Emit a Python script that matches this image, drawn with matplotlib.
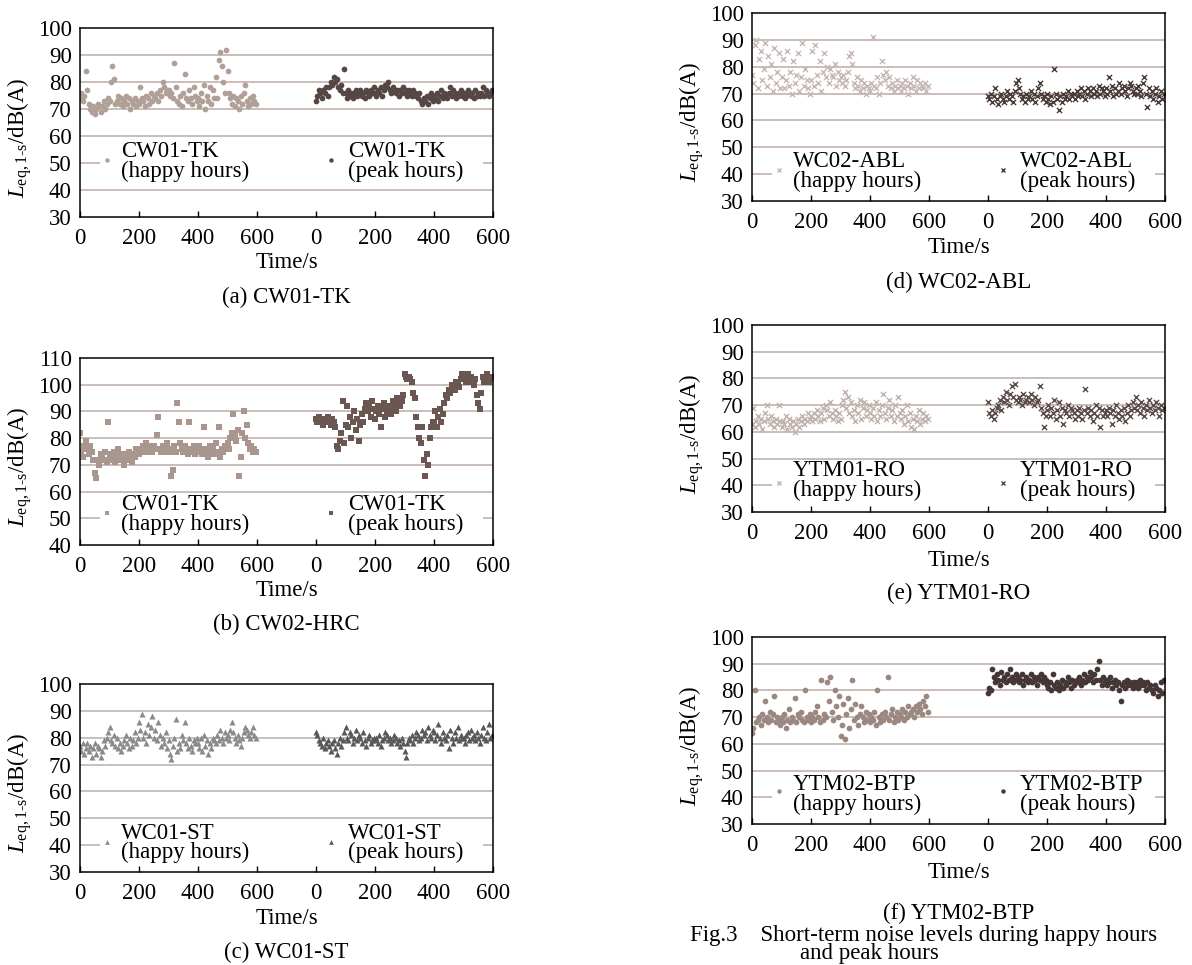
import numpy as np
import matplotlib
matplotlib.use('Agg')
import matplotlib.pyplot as plt
from matplotlib.patches import Rectangle

plt.rcParams['font.family'] = ['Liberation Serif', 'DejaVu Serif']
plt.rcParams['mathtext.fontset'] = 'custom'
plt.rcParams['mathtext.rm'] = 'Liberation Serif'
plt.rcParams['mathtext.it'] = 'Liberation Serif:italic'

W, H = 1192, 965
STEP = 5  # seconds between the read-off samples

# ---------------- data (dB(A), one value every 5 s, 0..595 s) ----------------
a_happy = [74,76,73,75,84,77,72,70,69,71,68,70,72,71,69,71,73,70,72,74,
           73,80,86,81,72,73,75,72,74,71,73,75,72,74,70,73,72,74,71,73,
           72,78,74,73,71,75,74,72,76,73,75,74,76,73,77,75,80,78,76,77,
           77,75,76,74,87,78,73,72,75,71,76,83,74,73,77,74,72,78,75,73,
           74,71,76,73,79,70,75,73,78,72,77,74,82,74,88,91,86,80,76,92,
           84,76,74,72,75,71,74,73,70,75,72,76,79,73,71,74,72,75,73,72]
a_peak = [73,75,77,76,74,77,76,78,75,78,80,79,82,80,81,78,77,79,76,85,
          76,74,77,75,76,74,76,77,75,76,77,75,76,74,77,76,75,77,76,78,
          76,75,77,76,78,75,77,79,78,80,77,76,78,77,76,77,75,77,76,78,
          76,77,75,77,76,75,77,76,75,74,76,73,72,74,73,75,72,74,76,73,
          75,74,76,73,75,77,74,76,75,74,76,78,75,77,76,74,75,76,77,75,
          76,74,75,77,76,75,76,74,77,75,76,75,76,78,75,77,76,75,76,77]

b_happy = [82,75,73,77,79,76,74,77,75,72,67,65,72,70,74,73,72,75,71,86,
           73,74,72,75,71,73,76,74,72,73,70,74,72,75,73,71,74,73,76,75,
           74,76,75,77,76,78,75,77,76,75,77,76,81,88,76,75,77,76,75,78,
           76,75,66,68,77,75,93,86,78,76,75,77,76,74,86,76,75,77,74,76,
           75,77,76,74,84,75,76,73,77,75,76,74,78,75,84,73,76,75,77,76,
           78,76,80,82,89,81,79,83,66,73,82,90,80,85,78,76,77,75,76,75]
b_peak = [87,86,88,86,87,85,87,86,88,86,85,87,86,84,77,76,79,82,94,78,
          85,92,84,88,80,86,90,83,87,79,85,89,86,91,93,90,92,88,94,91,
          87,90,92,89,84,91,93,88,90,92,91,89,94,92,90,95,93,92,94,96,
          104,103,102,103,102,101,97,95,88,84,80,78,84,72,66,74,70,80,84,86,
          86,90,84,88,91,86,89,93,96,95,98,97,100,99,98,101,100,99,102,104,
          103,102,101,104,102,103,101,100,102,96,93,91,97,103,101,102,104,101,102,103]

c_happy = [77,75,78,74,76,78,75,77,73,76,78,74,77,76,73,75,79,77,80,82,
           84,79,78,81,77,80,76,78,75,77,79,81,78,76,80,77,79,82,78,80,
           86,83,89,80,82,78,85,81,84,88,80,83,79,86,81,77,80,78,82,76,
           79,74,72,77,80,87,75,78,76,81,79,86,78,76,80,77,75,79,78,80,
           78,76,80,75,81,77,79,74,78,76,80,79,78,81,79,83,80,78,82,80,
           81,79,83,86,82,80,78,81,79,77,80,82,84,83,81,80,82,84,81,80]
c_peak = [82,81,79,78,77,80,76,78,79,77,75,78,79,76,74,78,80,77,79,82,
          84,80,79,82,81,78,80,83,79,81,80,78,82,79,77,80,81,78,79,80,
          79,80,78,81,77,79,80,82,81,79,80,78,79,81,80,78,79,77,80,78,
          75,73,78,80,79,81,78,80,82,81,79,80,83,81,82,79,84,81,80,83,
          82,79,81,85,80,78,82,80,79,81,76,83,80,78,82,80,84,79,81,80,
          80,78,81,82,79,83,80,81,79,82,80,78,81,84,80,79,82,85,80,81]

d_happy = [77,74,88,90,72,83,86,75,79,89,73,84,76,81,71,87,74,78,85,72,
           76,83,72,75,86,73,78,70,82,74,77,85,71,76,89,73,79,75,72,70,
           75,86,73,88,77,74,82,71,78,85,76,80,74,79,77,76,81,73,78,75,
           76,74,77,73,75,78,84,85,81,74,72,76,73,71,75,72,74,70,73,72,
           71,74,91,73,72,76,70,74,82,77,75,78,73,76,72,74,71,73,75,72,
           73,71,74,72,75,73,70,74,72,76,73,71,75,72,74,73,72,74,71,73]
d_peak = [69,68,70,67,69,72,68,66,69,70,68,67,69,71,68,70,69,67,71,74,
          75,72,70,68,69,67,70,68,69,71,68,70,67,69,72,74,70,68,69,67,
          70,68,66,69,67,79,70,68,64,69,67,70,68,69,71,68,70,69,70,68,
          71,69,70,72,69,71,68,70,72,71,69,72,70,71,69,73,70,72,71,69,
          72,70,76,71,73,69,72,70,71,74,70,72,73,71,69,72,74,73,71,70,
          72,70,73,71,69,74,76,70,65,72,69,71,68,70,72,67,69,71,68,70]

e_happy = [63,69,62,64,66,63,65,61,64,67,70,65,63,66,64,62,65,63,70,64,
           62,64,63,66,61,65,63,62,64,60,63,65,62,64,66,63,65,64,67,65,
           66,64,67,65,68,66,64,67,69,65,70,68,66,71,67,65,68,66,64,67,
           65,70,72,75,69,73,67,71,66,68,64,70,67,72,65,69,71,66,68,70,
           67,65,69,66,71,64,68,66,70,74,67,65,69,72,66,68,64,70,66,73,
           67,65,68,63,66,70,64,67,62,65,61,66,64,68,63,65,67,64,66,65]
e_peak = [71,67,66,68,65,67,69,70,72,68,73,71,75,72,70,74,77,73,78,72,
          71,73,72,70,74,71,72,73,71,74,72,70,73,71,72,77,69,67,62,66,
          68,70,66,69,67,72,65,68,71,66,69,63,68,67,70,66,69,68,67,65,
          68,66,69,67,65,68,76,67,69,66,68,64,67,70,66,69,62,68,66,67,
          68,66,69,67,63,68,66,70,67,65,68,66,69,64,67,70,66,68,71,69,
          73,68,70,67,71,69,66,70,68,72,69,67,70,68,71,69,66,70,68,69]

f_happy = [64,66,80,68,69,70,67,71,69,76,70,68,72,69,71,78,68,70,69,67,
           70,68,71,66,69,73,68,70,69,77,68,71,70,72,69,68,80,70,69,71,
           68,70,69,72,74,70,68,84,69,71,70,83,76,85,72,69,80,74,70,78,
           63,67,75,62,71,77,66,73,84,69,75,70,67,71,74,70,68,72,69,71,
           68,70,69,72,67,80,70,68,71,69,72,70,85,69,71,73,68,70,72,69,
           71,70,73,69,72,70,74,71,72,73,70,74,72,75,73,71,76,74,78,72]
f_peak = [79,81,80,88,85,83,86,84,82,87,84,85,83,86,84,88,85,83,84,86,
          85,83,84,86,82,84,85,83,84,86,83,85,84,82,85,84,86,83,85,84,
          82,81,83,80,86,82,81,83,80,82,84,81,83,82,85,83,81,84,82,83,
          84,83,85,82,84,86,83,85,84,87,85,83,86,84,88,91,84,82,85,83,
          84,82,83,85,81,83,84,82,83,80,76,82,83,81,84,82,83,82,81,83,
          82,83,81,84,82,83,82,80,83,81,82,80,79,82,81,78,80,83,79,84]

x_tick_labels = ['0', '200', '400', '600', '0', '200', '400', '600']
PEAK_OFFSET = 800   # peak-hour block starts at axis position 800

panels = [
    dict(name='CW01-TK', cap='(a) CW01-TK', happy=a_happy, peak=a_peak, ylim=(30, 100),
         marker='o', s=17, ch='#b0a098', cp='#574744', grid='#c6b8b4',
         rect=(80, 28, 413, 189), leg=(0.302, 0.317, 0.212), tx=(262, 297)),
    dict(name='CW01-TK', cap='(b) CW02-HRC', happy=b_happy, peak=b_peak, ylim=(40, 110),
         marker='s', s=14, ch='#a8968f', cp='#6a5751', grid='#c6b8b4',
         rect=(80, 358, 413, 187), leg=(0.171, 0.187, 0.080), tx=(591, 624)),
    dict(name='WC01-ST', cap='(c) WC01-ST', happy=c_happy, peak=c_peak, ylim=(30, 100),
         marker='^', s=19, ch='#8a8a8a', cp='#585858', grid='#bdbdbd',
         rect=(80, 684, 413, 188), leg=(0.160, 0.176, 0.074), tx=(919, 952)),
    dict(name='WC02-ABL', cap='(d) WC02-ABL', happy=d_happy, peak=d_peak, ylim=(30, 100),
         marker='x', s=14, ch='#c6b8b4', cp='#4a3b39', grid='#c6b8b4',
         rect=(752, 13, 413, 188), leg=(0.166, 0.183, 0.076), tx=(248, 282)),
    dict(name='YTM01-RO', cap='(e) YTM01-RO', happy=e_happy, peak=e_peak, ylim=(30, 100),
         marker='x', s=14, ch='#c0b2ad', cp='#5c4c49', grid='#c6b8b4',
         rect=(752, 325, 413, 187), leg=(0.157, 0.190, 0.083), tx=(560, 593)),
    dict(name='YTM02-BTP', cap='(f) YTM02-BTP', happy=f_happy, peak=f_peak, ylim=(30, 100),
         marker='o', s=17, ch='#9b8981', cp='#443735', grid='#c6b8b4',
         rect=(752, 637, 413, 187), leg=(0.177, 0.182, 0.076), tx=(872, 913)),
]

fig = plt.figure(figsize=(W / 100, H / 100), dpi=100)
FS = 16.5


def fx(px):
    return px / W


def fy(py):
    return 1 - py / H


for p in panels:
    l, t, w, h = p['rect']
    ax = fig.add_axes([fx(l), fy(t + h), w / W, h / H])
    lo, hi = p['ylim']
    ax.set_xlim(0, 1400)
    ax.set_ylim(lo, hi)
    ax.set_xticks(range(0, 1401, 200))
    ax.set_xticklabels(x_tick_labels)
    ax.set_yticks(range(lo, hi + 1, 10))
    ax.tick_params(axis='x', direction='in', length=4, width=1.0, pad=8, labelsize=FS)
    ax.tick_params(axis='y', length=0, pad=6, labelsize=FS)
    for sp in ax.spines.values():
        sp.set_linewidth(1.1)
        sp.set_color('black')
    for v in range(lo + 10, hi, 10):
        ax.axhline(v, color=p['grid'], lw=1.3, zorder=0.5)

    th = np.arange(len(p['happy'])) * STEP
    tp = np.arange(len(p['peak'])) * STEP + PEAK_OFFSET
    kw = dict(marker=p['marker'], s=p['s'], zorder=2)
    if p['marker'] == 'x':
        kw['linewidths'] = 1.0
    else:
        kw['linewidths'] = 0
    ax.scatter(th, p['happy'], color=p['ch'], **kw)
    ax.scatter(tp, p['peak'], color=p['cp'], **kw)

    # legend area (white background hiding grid line)
    my, b1, b2 = p['leg']
    ax.add_patch(Rectangle((0.048, b2 - 0.035), 0.927, (b1 + 0.085) - (b2 - 0.035),
                           transform=ax.transAxes, facecolor='white',
                           edgecolor='none', zorder=1))
    for mx, txx, col, lab in ((0.065, 0.099, p['ch'], '(happy hours)'),
                              (0.608, 0.649, p['cp'], '(peak hours)')):
        ax.scatter([mx], [my], transform=ax.transAxes, color=col, clip_on=False,
                   zorder=3, marker=p['marker'], s=p['s'] * 0.6,
                   linewidths=kw['linewidths'])
        ax.text(txx, b1, p['name'], transform=ax.transAxes, fontsize=FS,
                va='baseline', ha='left', zorder=3)
        ax.text(txx, b2, lab, transform=ax.transAxes, fontsize=FS,
                va='baseline', ha='left', zorder=3)

    cx = l + w / 2
    fig.text(fx(cx), fy(p['tx'][0]), 'Time/s', ha='center', va='center', fontsize=FS)
    fig.text(fx(cx), fy(p['tx'][1]), p['cap'], ha='center', va='center', fontsize=FS)
    fig.text(fx(l - 60), fy(t + h / 2 + 15),
             '$L_{\\mathrm{eq,1\u2010s}}$/dB(A)', rotation=90,
             ha='center', va='center', fontsize=FS)

fig.text(fx(690), fy(935), 'Fig.3    Short-term noise levels during happy hours',
         ha='left', va='center', fontsize=FS)
fig.text(fx(800), fy(954), 'and peak hours', ha='left', va='center', fontsize=FS)

fig.savefig('out.png', dpi=100)
